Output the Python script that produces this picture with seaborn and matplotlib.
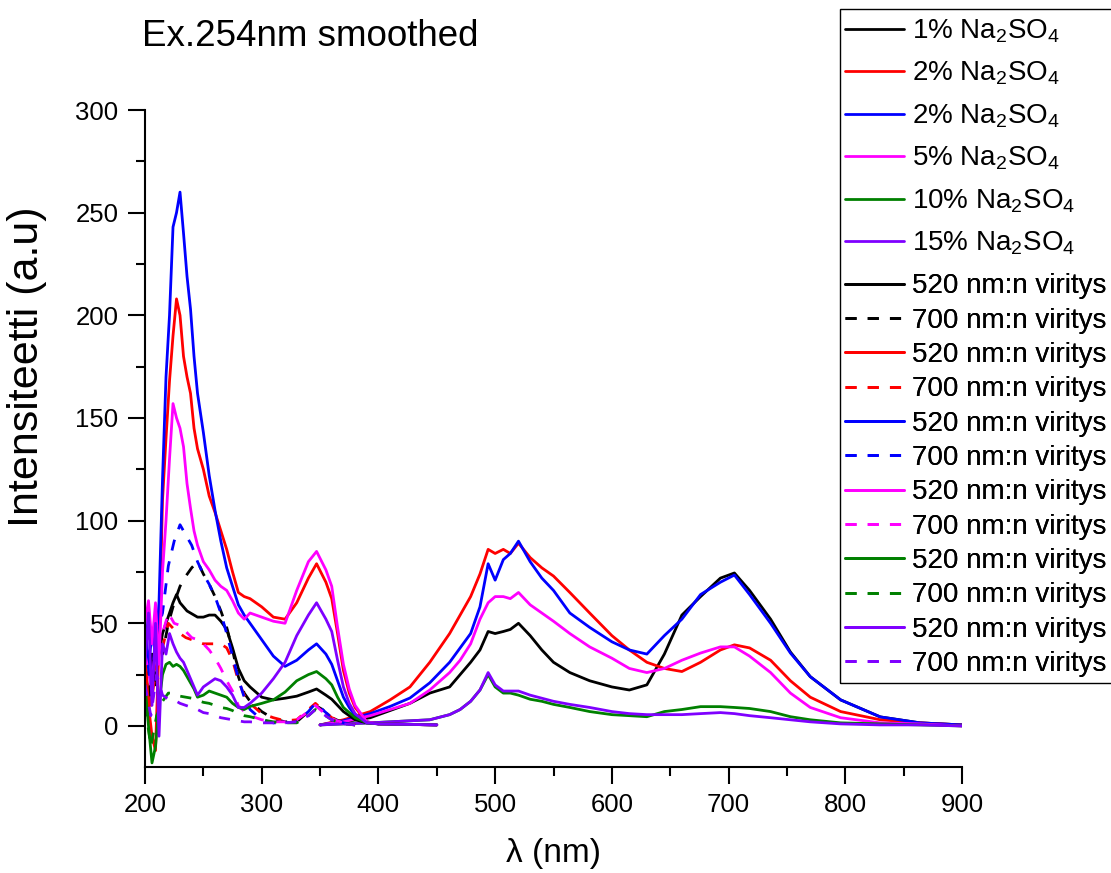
import matplotlib
matplotlib.use("Agg")
import matplotlib.pyplot as plt
import matplotlib.patches as mpatches
import seaborn as sns
import pandas as pd

# ---------------- data ----------------
COLORS = ["#000000", "#FF0000", "#0000FF", "#FF00FF", "#008000", "#7F00FF"]
EM_LABELS = ["1% Na$_2$SO$_4$", "2% Na$_2$SO$_4$", "2% Na$_2$SO$_4$",
             "5% Na$_2$SO$_4$", "10% Na$_2$SO$_4$", "15% Na$_2$SO$_4$"]
EX520_LABEL = "520 nm:n viritys"
EX700_LABEL = "700 nm:n viritys"

# emission spectra (solid, 350-900 nm)
X_EM = [350, 370, 393, 410, 427, 444, 461, 470, 479, 487, 494, 500, 507, 513, 520,
        530, 540, 550, 564, 581, 600, 615, 630, 645, 660, 676, 693, 705, 718, 736,
        753, 770, 796, 830, 864, 900]
EM_BLACK = [0.5, 2, 4, 7.5, 11, 16, 19, 25, 31, 37, 46, 45, 46, 47, 50,
            44, 37, 31, 26, 22, 19, 17.5, 20, 35, 54, 63, 72, 74.5, 66, 52,
            36, 24, 12.7, 4.4, 1.5, 0.5]
EM_RED = [0.5, 3, 7, 12.7, 19, 31, 45, 54, 63, 74, 86, 84, 86, 84, 89,
          82, 77, 73, 65, 55, 44, 37, 31, 28, 26.5, 31, 37, 39.5, 38, 32,
          22, 14, 7, 3, 1.5, 0.5]
EM_BLUE = [0.5, 2.5, 6, 9.5, 13.6, 21, 31, 38, 45, 58, 79, 71, 81, 84, 90,
           80, 72, 66, 55, 48, 41, 37, 35, 44, 52, 64, 70, 73.5, 64, 50,
           35.5, 24, 12.7, 4.4, 1.5, 0.5]
EM_MAGENTA = [0.5, 2, 5, 8, 11, 17.5, 26, 32, 40, 52, 60, 63, 63, 62, 65,
              59, 55, 51, 45, 38.5, 33, 28, 26, 28, 32, 35.5, 38.5, 38.5, 34, 26,
              16, 9, 4, 1.5, 1, 0]
EM_GREEN = [0.5, 1, 1.5, 2, 2.5, 3, 5.5, 8, 12, 17.5, 25, 19, 16, 16, 15,
            13, 12, 10.5, 9, 7, 5.5, 5, 4.5, 7, 8, 9.4, 9.4, 9, 8.5, 7,
            4.5, 3, 1.5, 1, 0.5, 0]
EM_PURPLE = [0.5, 1, 1.5, 2, 2.5, 3, 5.5, 8, 12, 17.5, 26, 20, 17, 17, 17,
             15, 13.5, 12, 10.5, 9, 7, 6, 5.5, 5.5, 5.5, 6, 6.5, 6, 5, 4,
             3, 2, 1, 0.5, 0.5, 0]

# excitation spectra, emission monitored at 520 nm (solid, 200-450 nm)
X_EX520 = [200, 203, 206, 209, 212, 215, 218, 221, 224, 227, 230, 233, 236, 239, 242,
           245, 250, 255, 260, 265, 270, 275, 280, 285, 290, 300, 310, 320, 330, 340,
           347, 355, 360, 365, 370, 375, 380, 390, 400, 450]
EX520_BLACK = [30, 10, 35, 20, 35, 45, 50, 55, 60, 64, 60, 58, 56, 55, 54,
               53, 53, 54, 54, 51, 47, 38, 28, 22, 19, 14, 12.7, 13.5, 14.5, 16.5,
               18, 15, 13, 10, 7, 5, 3, 1.5, 1, 0.5]
EX520_RED = [35, 10, -5, -12, 40, 110, 140, 168, 190, 208, 200, 180, 170, 162, 145,
             135, 125, 112, 104, 95, 86, 75, 65, 63, 62, 58, 53, 52, 60, 72,
             79, 70, 62, 45, 27, 16, 9, 2, 1, 0.5]
EX520_BLUE = [52, 29, 45, 35, 60, 120, 170, 200, 243, 250, 260, 240, 219, 203, 180,
              162, 143, 122, 105, 90, 77, 68, 59, 54, 50, 42, 34, 29, 32, 37,
              40, 35, 30, 22, 14, 9, 5, 2, 1, 0.5]
EX520_MAGENTA = [50, 61, 40, 60, 30, 75, 100, 130, 157, 150, 145, 136, 118, 106, 95,
                 88, 80, 76, 71, 68, 66, 61, 55, 52, 55, 53, 51, 50, 66, 80,
                 85, 76, 68, 48, 30, 18, 10, 2, 1, 0.5]
EX520_GREEN = [20, 0, -18, -10, 10, 25, 30, 31, 29, 30, 29, 27, 24, 21, 18,
               14, 15, 17, 16, 15, 14, 11, 9, 8, 9.5, 11, 12.7, 16.5, 22, 25,
               26.5, 23, 20, 14, 9, 6.5, 4, 1.5, 1, 0.5]
EX520_PURPLE = [30, 55, 10, 50, -5, 40, 35, 45, 40, 36, 33, 31, 27, 23, 19,
                15, 19, 21, 23, 22, 19, 15, 9, 9, 11, 16, 23, 31, 44, 54,
                60, 52, 46, 32, 19, 11, 6, 1.5, 1, 0.5]

# excitation spectra, emission monitored at 700 nm (dashed, 200-380 nm)
X_EX700 = [200, 205, 210, 215, 220, 225, 230, 235, 240, 245, 250, 255, 260, 265, 270,
           275, 280, 285, 290, 300, 310, 320, 330, 340, 346, 352, 360, 370, 380]
EX700_BLACK = [30, 15, 40, 35, 50, 60, 68, 73, 77, 80, 74, 69, 63, 56, 48,
               37, 24, 16, 12, 7, 3.5, 2, 2, 7, 10, 8, 4, 1.5, 0.5]
EX700_RED = [25, 10, 30, 38, 50, 47, 45, 43, 42, 41, 40, 40, 40, 40, 38,
             32, 22, 15, 11, 6, 4, 2.5, 3, 8, 11, 8, 4, 1.5, 0.5]
EX700_BLUE = [40, 20, 45, 55, 78, 90, 98, 93, 88, 80, 74, 69, 63, 55, 45,
              34, 23, 14, 8, 3, 1.5, 1.5, 2, 7, 11, 8, 4, 1.5, 0.5]
EX700_MAGENTA = [35, 20, 40, 45, 55, 50, 49, 46, 43, 42, 40, 37, 33, 28, 22,
                 17, 10, 7, 5, 3, 2, 2, 3, 7, 10, 7, 3.5, 1.5, 0.5]
EX700_GREEN = [10, -10, 5, 12, 16, 16, 14.5, 14, 13.5, 12.5, 11.5, 11, 10, 9, 8.5,
               7.5, 6, 5, 4.5, 3, 2, 1.5, 1.5, 5, 8, 6, 3, 1, 0.5]
EX700_PURPLE = [20, 5, 25, 15, 13, 12.7, 11, 10, 9, 8, 6.5, 6, 5, 4, 3.5,
                3, 2.5, 2, 2, 1.5, 1.5, 1.5, 2, 5, 8, 6, 3, 1, 0.5]

EM = [EM_BLACK, EM_RED, EM_BLUE, EM_MAGENTA, EM_GREEN, EM_PURPLE]
EX520 = [EX520_BLACK, EX520_RED, EX520_BLUE, EX520_MAGENTA, EX520_GREEN, EX520_PURPLE]
EX700 = [EX700_BLACK, EX700_RED, EX700_BLUE, EX700_MAGENTA, EX700_GREEN, EX700_PURPLE]

# ---------------- style ----------------
sns.set_style("ticks")
plt.rcParams["font.family"] = ["Liberation Sans", "DejaVu Sans"]
plt.rcParams["mathtext.default"] = "regular"
plt.rcParams["axes.linewidth"] = 1.5
for k in ["text.color", "axes.labelcolor", "xtick.color", "ytick.color",
          "axes.edgecolor"]:
    plt.rcParams[k] = "black"

W, H = 1111, 873
fig = plt.figure(figsize=(W / 100, H / 100), dpi=100)
ax = fig.add_axes([145 / W, 1 - 767 / H, 817 / W, 657 / H])

LW = 2.0
em_handles, ex_handles = [], []
for col, y, lab in zip(COLORS, EM, EM_LABELS):
    df = pd.DataFrame({"x": X_EM, "y": y})
    sns.lineplot(data=df, x="x", y="y", ax=ax, color=col, lw=LW, legend=False)
    em_handles.append((ax.lines[-1], lab))

for col, y5, y7 in zip(COLORS, EX520, EX700):
    df5 = pd.DataFrame({"x": X_EX520, "y": y5})
    sns.lineplot(data=df5, x="x", y="y", ax=ax, color=col, lw=LW, legend=False)
    ex_handles.append((ax.lines[-1], EX520_LABEL))
    df7 = pd.DataFrame({"x": X_EX700, "y": y7})
    sns.lineplot(data=df7, x="x", y="y", ax=ax, color=col, lw=LW,
                 linestyle=(0, (4, 4)), legend=False)
    ex_handles.append((ax.lines[-1], EX700_LABEL))

ax.set_xlim(200, 900)
ax.set_ylim(-20, 300)
ax.set_xticks(range(200, 901, 100))
ax.set_xticks(range(250, 900, 100), minor=True)
ax.set_yticks(range(0, 301, 50))
ax.set_yticks(range(0, 300, 25), minor=True)
ax.tick_params(which="major", direction="out", length=12, width=1.5,
               labelsize=18.5, pad=7, color="black", labelcolor="black")
ax.tick_params(which="minor", direction="out", length=6.5, width=1.5, color="black")
sns.despine(ax=ax)

ax.set_xlabel("λ (nm)", fontsize=24, labelpad=15)
ax.set_ylabel("Intensiteetti (a.u)", fontsize=31)
ax.yaxis.label.set_va("center")
ax.yaxis.set_label_coords((27 - 145) / 817, (767 - 367) / 657)

fig.text(142 / W, 1 - 37 / H, "Ex.254nm smoothed", fontsize=26.5,
         ha="left", va="center")

common = dict(loc="upper left", bbox_transform=fig.transFigure, fontsize=20,
              frameon=False, handlelength=2.1, handletextpad=0.3,
              borderpad=0.3, borderaxespad=0)
leg1 = ax.legend([h for h, _ in em_handles], [l for _, l in em_handles],
                 bbox_to_anchor=(837 / W, 1 - 9 / H), labelspacing=0.54, **common)
ax.add_artist(leg1)
leg2 = ax.legend([h for h, _ in ex_handles], [l for _, l in ex_handles],
                 bbox_to_anchor=(837 / W, 1 - 265 / H), labelspacing=0.30, **common)
ax.add_artist(leg2)
frame = mpatches.Rectangle((840 / W, 1 - 683 / H), (W - 840 + 5) / W, (683 - 9) / H,
                           transform=fig.transFigure, fill=False, ec="black",
                           lw=1.0, clip_on=False)
fig.patches.append(frame)

fig.savefig("out.png", dpi=100)
